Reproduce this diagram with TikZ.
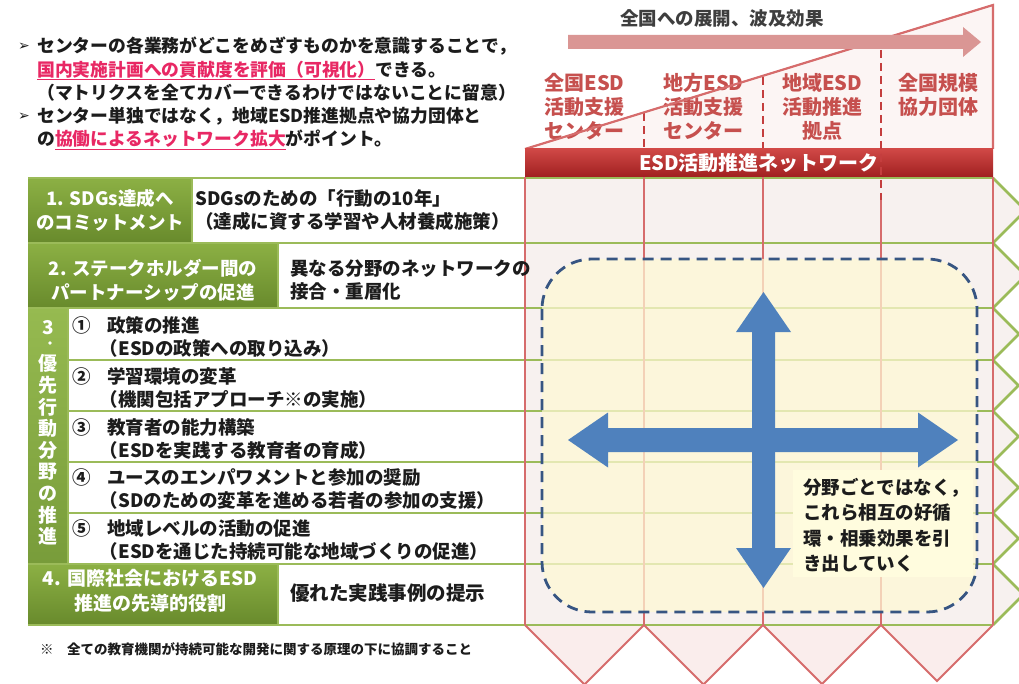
\documentclass[tikz,border=0pt]{standalone}
\usepackage{fontspec}
\setmainfont{Noto Sans CJK JP}
\newfontfamily\dejavu{DejaVu Sans}
\newcommand{\myfs}[2]{\fontsize{#1}{#2}\selectfont}
\definecolor{grn}{RGB}{155,187,89}
\definecolor{gA}{RGB}{140,176,68}
\definecolor{gB}{RGB}{104,138,44}
\definecolor{gC}{RGB}{150,186,80}
\definecolor{gD}{RGB}{120,156,58}
\definecolor{redl}{RGB}{214,108,108}
\definecolor{redD}{RGB}{196,62,62}
\definecolor{hdrtxt}{RGB}{198,80,78}
\definecolor{hfill}{RGB}{252,245,244}
\definecolor{barT}{RGB}{208,72,70}
\definecolor{barB}{RGB}{160,32,32}
\definecolor{mbg}{RGB}{247,241,239}
\definecolor{vfill}{RGB}{250,237,236}
\definecolor{yel}{RGB}{255,249,212}
\definecolor{calfill}{RGB}{255,252,222}
\definecolor{blu}{RGB}{79,129,189}
\definecolor{dsh}{RGB}{55,85,130}
\definecolor{pk}{RGB}{232,40,100}
\definecolor{arr}{RGB}{218,150,148}
\definecolor{txt}{RGB}{28,28,28}
\begin{document}
\begin{tikzpicture}[x=1pt,y=-1pt,
  gline/.style={draw=grn, line width=2.6pt},
  rline/.style={draw=redl, line width=2pt},
  rdash/.style={draw=redD, line width=2.4pt, dash pattern=on 8pt off 5pt},
  btxt/.style={font=\myfs{18.5}{23}\bfseries, text=txt, inner sep=0pt, align=left, anchor=west},
  wtxt/.style={font=\myfs{18.5}{24}\bfseries, text=white, inner sep=0pt, align=center},
  htxt/.style={font=\myfs{20}{24}\bfseries, text=hdrtxt, inner sep=0pt, align=center},
]
\useasboundingbox (0,0) rectangle (1019,684);
\fill[white] (0,0) rectangle (1019,684);

% ---------- header triangle ----------
\fill[hfill] (525,149) -- (993,5) -- (993,149) -- cycle;
\draw[rdash] (644,113) -- (644,149);
\draw[rdash] (763,77) -- (763,149);
\node[htxt] (h1) at (584.5,107) {全国ESD\\活動支援\\センター};
\node[htxt] (h2) at (703.5,107) {地方ESD\\活動支援\\センター};
\node[htxt] (h3) at (822,107) {地域ESD\\活動推進\\拠点};
\node[htxt] (h4) at (938,95) {全国規模\\協力団体};
\draw[rline, line width=2.2pt] (525,149) -- (993,5) -- (993,149);
\fill[arr] (568,35) -- (963,35) -- (963,27) -- (981,42) -- (963,57) -- (963,49) -- (568,49) -- cycle;
\node[font=\myfs{18.5}{22}\bfseries, text=txt!85, inner sep=0pt] (spread) at (722,18) {全国への展開、波及効果};

% ---------- red bar ----------
\shade[top color=barT, bottom color=barB] (525,149) rectangle (993,177);
\node[font=\myfs{20}{24}\bfseries, text=white, inner sep=0pt] (net) at (759,163) {ESD活動推進ネットワーク};

% ---------- matrix ----------
\fill[mbg] (525,177) rectangle (993,625);
\foreach \t/\b in {178/243,243/308,308/360,360/411,411/462,462/513,513/564,564/625}{
  \fill[mbg] (993,\t) -- ({993+(\b-\t)/2},{(\t+\b)/2}) -- (993,\b) -- cycle;
}
\foreach \l/\r in {525/644,644/763,763/881,881/993}{
  \fill[vfill] (\l,625) -- ({(\l+\r)/2},{625+(\r-\l)/2}) -- (\r,625) -- cycle;
}

% left white boxes
\fill[white] (192,178) rectangle (525,243);
\fill[white] (278,243) rectangle (525,308);
\fill[white] (68,308) rectangle (525,564);
\fill[white] (278,564) rectangle (525,625);
% green boxes
\shade[top color=gA, bottom color=gB] (28,178) rectangle (192,243);
\shade[top color=gA, bottom color=gB] (28,243) rectangle (278,308);
\shade[top color=gC, bottom color=gD] (28,308) rectangle (68,564);
\shade[top color=gA, bottom color=gB] (28,564) rectangle (278,625);

% green row lines
\foreach \y/\xs in {178/28,243/28,308/28,360/68,411/68,462/68,513/68,564/28,625/28}{
  \draw[gline] (\xs,\y) -- (993,\y);
}
\draw[gline, line width=1.5pt] (192,178) -- (192,243);
\draw[gline, line width=1.5pt] (278,243) -- (278,308);
\draw[gline, line width=1.5pt] (68,308) -- (68,564);
\draw[gline, line width=1.5pt] (278,564) -- (278,625);
\foreach \t/\b in {178/243,243/308,308/360,360/411,411/462,462/513,513/564,564/625}{
  \draw[gline] (993,\t) -- ({993+(\b-\t)/2},{(\t+\b)/2}) -- (993,\b);
}
% red column lines
\foreach \x in {525,644,763,993}{ \draw[rline] (\x,177) -- (\x,625); }
\draw[rline] (881,200) -- (881,625);
\foreach \l/\r in {525/644,644/763,763/881,881/993}{
  \draw[rline] (\l,625) -- ({(\l+\r)/2},{625+(\r-\l)/2}) -- (\r,625);
}
\draw[rdash] (881,50) -- (881,200);

% yellow overlay + dashed frame
\fill[yel, opacity=0.72, rounded corners=50pt] (542,259) rectangle (977,612);
\draw[dsh, line width=2.8pt, dash pattern=on 11pt off 7pt, rounded corners=50pt] (542,259) rectangle (977,612);

% blue cross arrows
\fill[blu] (763.5,292) -- (791,332) -- (775,332) -- (775,548) -- (791,548) -- (763.5,588)
  -- (736,548) -- (752,548) -- (752,332) -- (736,332) -- cycle;
\fill[blu] (568,440) -- (608,412.5) -- (608,428) -- (918,428) -- (918,412.5) -- (958,440)
  -- (918,467.5) -- (918,452) -- (608,452) -- (608,467.5) -- cycle;

% callout
\fill[calfill] (793,470) rectangle (973,577);
\node[btxt, font=\myfs{18.5}{25.5}\bfseries] (call) at (803,525.5) {分野ごとではなく，\\これら相互の好循\\環・相乗効果を引\\き出していく};

% ---------- left texts ----------
\node[wtxt] (r1g) at (110,210.5) {1. SDGs達成へ\\のコミットメント};
\node[btxt] (r1w) at (195,210.5) {SDGsのための「行動の10年」\\（達成に資する学習や人材養成施策）};
\node[wtxt] (r2g) at (153,280) {2. ステークホルダー間の\\パートナーシップの促進};
\node[btxt] (r2w) at (290,280) {異なる分野のネットワークの\\接合・重層化};
\node[wtxt, font=\myfs{19}{22}\bfseries] (r3a) at (48,328) {3};
\fill[white] (50,343) circle (1.9pt);
\node[wtxt, font=\myfs{19}{21.6}\bfseries] (r3c) at (48,450) {優\\先\\行\\動\\分\\野\\の\\推\\進};
\node[btxt] (s1) at (72,336.5) {①\hspace{0.9em}政策の推進\\\hspace{1.5em}（ESDの政策への取り込み）};
\node[btxt] (s2) at (72,388) {②\hspace{0.9em}学習環境の変革\\\hspace{1.5em}（機関包括アプローチ※の実施）};
\node[btxt] (s3) at (72,439) {③\hspace{0.9em}教育者の能力構築\\\hspace{1.5em}（ESDを実践する教育者の育成）};
\node[btxt] (s4) at (72,489) {④\hspace{0.9em}ユースのエンパワメントと参加の奨励\\\hspace{1.5em}（SDのための変革を進める若者の参加の支援）};
\node[btxt] (s5) at (72,540.5) {⑤\hspace{0.9em}地域レベルの活動の促進\\\hspace{1.5em}（ESDを通じた持続可能な地域づくりの促進）};
\node[wtxt, font=\myfs{19}{25}\bfseries] (r4g) at (150,591) {4. 国際社会におけるESD\\推進の先導的役割};
\node[btxt, font=\myfs{19.5}{24}\bfseries] (r4w) at (290,593) {優れた実践事例の提示};

% footnote
\node[btxt, font=\myfs{13.5}{16}\bfseries] (foot) at (40,649) {※\hspace{1em}全ての教育機関が持続可能な開発に関する原理の下に協調すること};

% top-left text
\node[font=\dejavu\myfs{14}{16}, text=txt, inner sep=0pt] (b1) at (24,47) {➢};
\node[font=\dejavu\myfs{14}{16}, text=txt, inner sep=0pt] (b2) at (24,117) {➢};
\node[btxt, font=\myfs{17.8}{23.25}\bfseries] (intro) at (37,93.5) {センターの各業務がどこをめざすものかを意識することで，\\{\color{pk}\underline{国内実施計画への貢献度を評価（可視化）}}できる。\\（マトリクスを全てカバーできるわけではないことに留意）\\センター単独ではなく，地域ESD推進拠点や協力団体と\\の{\color{pk}\underline{協働によるネットワーク拡大}}がポイント。};
\end{tikzpicture}
\end{document}
